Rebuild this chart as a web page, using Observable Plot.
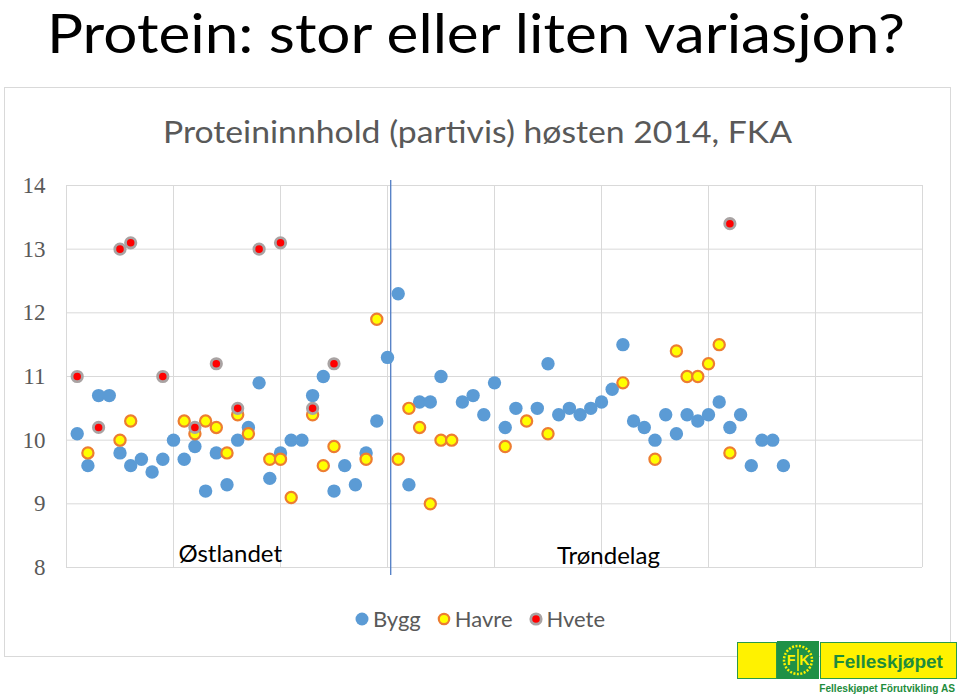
<!DOCTYPE html>
<html><head><meta charset="utf-8">
<script src="https://cdn.jsdelivr.net/npm/d3@7"></script>
<script src="https://cdn.jsdelivr.net/npm/@observablehq/plot@0.6"></script>
<style>
body{margin:0;background:#fff;}
#page{position:relative;width:960px;height:698px;overflow:hidden;background:#fff;font-family:Lato,"Open Sans",sans-serif;}
#frame{position:absolute;left:4px;top:87px;width:945px;height:568px;border:1.5px solid #d9d9d9;}
.abs{position:absolute;}
#legend{position:absolute;left:0;top:605px;width:960px;display:flex;justify-content:center;align-items:center;font-size:22px;color:#595959;}
#legend .item{display:flex;align-items:center;margin:0 8px;}
#legend svg{margin-right:4px;overflow:visible;}
</style></head><body>
<div id="page">
  <div id="frame"></div>
  <svg class="abs" style="left:0;top:0" width="960" height="160" id="titles"></svg>
  <div id="chart" class="abs" style="left:0;top:150px"></div>
  <div id="legend"></div>
  <div id="logo" class="abs" style="left:736px;top:641px;width:222px;height:56px;"></div>
</div>
<script>
const title = "Protein: stor eller liten variasjon?";
const chartTitle = "Proteininnhold (partivis) høsten 2014, FKA";
const seriesNames = ["Bygg", "Havre", "Hvete"];

const byggParti   = [1,2,3,4,5,6,7,8,9,10,11,12,13,14,15,16,17,18,19,20,21,22,23,24,25,26,27,28,29,30,31,32,33,34,35,37,38,39,40,41,42,44,45,46,47,48,49,50,51,52,53,54,55,56,57,58,59,60,61,62,63,64,65,66,67];
const byggProtein = [10.1,9.6,10.7,10.7,9.8,9.6,9.7,9.5,9.7,10.0,9.7,9.9,9.2,9.8,9.3,10.0,10.2,10.9,9.4,9.8,10.0,10.0,10.7,11.0,9.2,9.6,9.3,9.8,10.3,11.3,12.3,9.3,10.6,10.6,11.0,10.6,10.7,10.4,10.9,10.2,10.5,10.5,11.2,10.4,10.5,10.4,10.5,10.6,10.8,11.5,10.3,10.2,10.0,10.4,10.1,10.4,10.3,10.4,10.6,10.2,10.4,9.6,10.0,10.0,9.6];

const havreParti   = [2,5,6,11,12,13,14,15,16,17,19,20,21,23,24,25,28,29,31,32,33,34,35,36,41,43,45,52,55,57,58,59,60,61,62];
const havreProtein = [9.8,10.0,10.3,10.3,10.1,10.3,10.2,9.8,10.4,10.1,9.7,9.7,9.1,10.4,9.6,9.9,9.7,11.9,9.7,10.5,10.2,9.0,10.0,10.0,9.9,10.3,10.1,10.9,9.7,11.4,11.0,11.0,11.2,11.5,9.8];

const hveteParti   = [1,3,5,6,9,12,14,16,18,20,23,25,62];
const hveteProtein = [11.0,10.2,13.0,13.1,11.0,10.2,11.2,10.5,13.0,13.1,10.5,11.2,13.4];

const regionNames   = ["Østlandet", "Trøndelag"];
const regionParti   = [15.3, 50.65];
const regionProtein = [8.21, 8.18];
const separatorParti = [30.3];

const yTicks = [8, 9, 10, 11, 12, 13, 14];
const xGrid = [0, 10, 20, 30, 40, 50, 60, 70, 80];

const styles = {
  Bygg:  {fill: "#5b9bd5", stroke: "none", r: 6.7, sw: 0},
  Havre: {fill: "#ffff00", stroke: "#ed7d31", r: 5.6, sw: 2.2},
  Hvete: {fill: "#ff0000", stroke: "#a9a3a3", r: 5.2, sw: 2.8}
};

const zip = (xs, ys) => xs.map((x, i) => ({x, y: ys[i]}));
const bygg = zip(byggParti, byggProtein);
const havre = zip(havreParti, havreProtein);
const hvete = zip(hveteParti, hveteProtein);
const regions = regionNames.map((t, i) => ({t, x: regionParti[i], y: regionProtein[i]}));

function fitText(sel, target, maxSize) {
  let size = maxSize;
  sel.attr("font-size", size);
  const w = sel.node().getComputedTextLength();
  if (w > target) { size = maxSize * target / w; sel.attr("font-size", size); }
}

// Titles
const ts = d3.select("#titles");
ts.append("text").attr("x", 47).attr("y", 53).attr("font-size", 54)
  .attr("font-family", "Lato, 'Open Sans', sans-serif").attr("fill", "#000")
  .attr("textLength", 858).attr("lengthAdjust", "spacingAndGlyphs").text(title);
ts.append("text").attr("x", 163).attr("y", 143).attr("font-size", 30)
  .attr("font-family", "Lato, 'Open Sans', sans-serif").attr("fill", "#595959")
  .attr("textLength", 629).attr("lengthAdjust", "spacingAndGlyphs").text(chartTitle);

const dot = (data, s) => Plot.dot(data, {x: "x", y: "y", r: s.r, fill: s.fill, stroke: s.stroke, strokeWidth: s.sw});

const chart = Plot.plot({
  width: 960, height: 440,
  marginTop: 35, marginBottom: 23, marginLeft: 66, marginRight: 38,
  x: {domain: [0, 80], axis: null},
  y: {domain: [8, 14], axis: null},
  style: {background: "transparent", overflow: "visible", fontFamily: "Lato, sans-serif"},
  marks: [
    Plot.gridX(xGrid, {stroke: "#d9d9d9", strokeOpacity: 1}),
    Plot.gridY(yTicks, {stroke: "#d9d9d9", strokeOpacity: 1}),
    Plot.axisY(yTicks, {tickSize: 0, tickPadding: 21, fontSize: 23, tickFormat: d => String(d), fill: "#595959", label: null, fontFamily: "Liberation Serif"}),
    Plot.ruleX(separatorParti, {stroke: "#4f7cc4", strokeWidth: 1.3, insetTop: -5, insetBottom: -8}),
    dot(bygg, styles.Bygg),
    dot(havre, styles.Havre),
    dot(hvete, styles.Hvete),
    Plot.text(regions, {x: "x", y: "y", text: "t", fontSize: 24, fill: "#000", fontFamily: "Lato, sans-serif"})
  ]
});
d3.select(chart).selectAll("text").filter(function() { return /^\d+$/.test(this.textContent); })
  .style("font-family", "'Liberation Serif', 'DejaVu Serif', serif");
document.getElementById("chart").appendChild(chart);

// Legend
const lg = d3.select("#legend");
seriesNames.forEach(name => {
  const s = styles[name];
  const it = lg.append("div").attr("class", "item");
  const sv = it.append("svg").attr("width", 14).attr("height", 14);
  sv.append("circle").attr("cx", 7).attr("cy", 7).attr("r", name === "Bygg" ? 6.5 : 5.2)
    .attr("fill", s.fill).attr("stroke", s.stroke).attr("stroke-width", s.sw);
  it.append("span").text(name);
});

// Logo
const logo = d3.select("#logo");
logo.append("div").style("position", "absolute").style("left", "1px").style("top", "1px")
  .style("width", "38px").style("height", "35px").style("background", "#fff200").style("border", "1px solid #2a9a48");
const em = logo.append("div").style("position", "absolute").style("left", "41px").style("top", "0px")
  .style("width", "42px").style("height", "38px").style("background", "#1f9146");
const es = em.append("svg").attr("width", 42).attr("height", 38);
es.append("circle").attr("cx", 21).attr("cy", 19).attr("r", 14).attr("fill", "#1f9146").attr("stroke", "#fff200").attr("stroke-width", 2.5).attr("stroke-dasharray", "2 1.5");
es.append("text").attr("x", 21).attr("y", 24).attr("text-anchor", "middle").attr("font-size", 14).attr("font-weight", "bold")
  .attr("font-family", "'Liberation Sans', Arial, sans-serif").attr("fill", "#fff200").text("F K");
es.append("line").attr("x1", 21).attr("x2", 21).attr("y1", 8).attr("y2", 30).attr("stroke", "#fff200").attr("stroke-width", 1.5);
logo.append("div").style("position", "absolute").style("left", "84px").style("top", "1px")
  .style("width", "135px").style("height", "35px").style("background", "#fff200").style("border", "1px solid #2a9a48");
const ls = logo.append("svg").attr("width", 222).attr("height", 56).style("position", "absolute").style("left", 0).style("top", 0);
const t1 = ls.append("text").attr("x", 152).attr("y", 27).attr("text-anchor", "middle").attr("font-weight", "bold")
  .attr("font-family", "'Liberation Sans Narrow', 'Liberation Sans', Arial, sans-serif").attr("fill", "#1e8c3c").text("Felleskjøpet");
fitText(t1, 110, 24);
const t2 = ls.append("text").attr("x", 219).attr("y", 51).attr("text-anchor", "end").attr("font-weight", "bold")
  .attr("font-family", "'Liberation Sans Narrow', 'Liberation Sans', Arial, sans-serif").attr("fill", "#1e8c3c").text("Felleskjøpet Förutvikling AS");
fitText(t2, 136, 11.5);
</script>
</body></html>
